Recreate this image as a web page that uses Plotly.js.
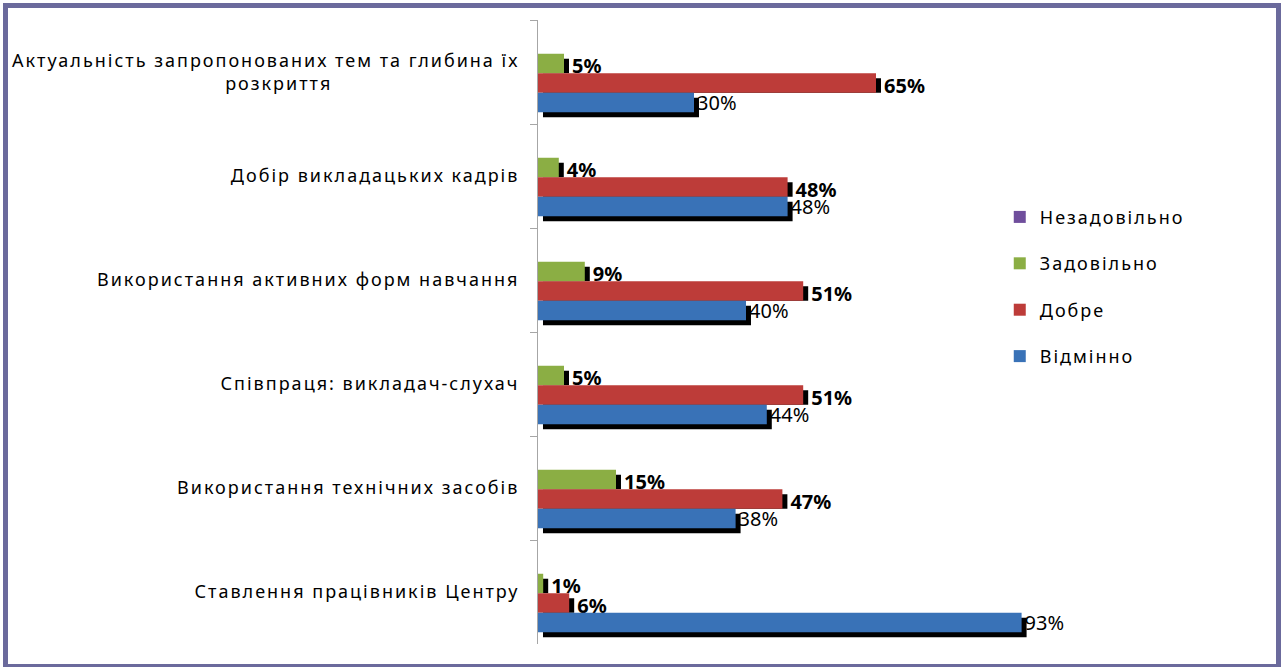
<!DOCTYPE html>
<html>
<head>
<meta charset="utf-8">
<script src="https://cdn.plot.ly/plotly-3.0.1.min.js"></script>
<style>
  html, body { margin: 0; padding: 0; background: #ffffff; }
  #wrap { position: relative; width: 1286px; height: 667px; }
  #chart { position: absolute; left: 0; top: 0; width: 1286px; height: 667px; }
  #frame { position: absolute; left: 3px; top: 3px; width: 1268px; height: 656px;
           border: 5px solid #6B6A9C; pointer-events: none; }
  #chart .ytick text, #chart .legendtext { letter-spacing: 2px; }
  #chart .legend .scrollbox { clip-path: none !important; }
  #chart .legend { clip-path: none !important; }
</style>
</head>
<body>
<div id="wrap">
  <div id="chart"></div>
  <div id="frame"></div>
</div>
<script>
// ---- data ----
var categories = [
  "Актуальність запропонованих тем та глибина їх<br>розкриття" + "\u00A0".repeat(28),
  "Добір викладацьких кадрів",
  "Використання активних форм навчання",
  "Співпраця: викладач-слухач",
  "Використання технічних засобів",
  "Ставлення працівників Центру"
];
var seriesNames = ["Незадовільно", "Задовільно", "Добре", "Відмінно"];
var unsatisfactory = [0, 0, 0, 0, 0, 0];
var satisfactory   = [5, 4, 9, 5, 15, 1];
var good           = [65, 48, 51, 51, 47, 6];
var excellent      = [30, 48, 40, 44, 38, 93];

function pct(arr) { return arr.map(function (v) { return v + "%"; }); }

// ---- styling ----
var colors = ["#6F4E9C", "#8BAE44", "#BD3C39", "#3972B7"];
var font = "Noto Sans, sans-serif";
var barW = 0.1875;          // one bar thickness in category units
var sh = 0.048;             // shadow offset (category units)
var shX = 0.96;             // shadow offset (value units)
var base0 = 0.012;

function bar(name, vals, color, off, opts) {
  var t = {
    type: "bar", orientation: "h", name: name,
    y: categories, x: vals,
    offset: off, width: barW,
    marker: { color: color, line: { width: 0 } },
    hoverinfo: "skip",
    legendgroup: name,
    cliponaxis: false
  };
  for (var k in opts) t[k] = opts[k];
  return t;
}

function shadow(vals, off, width, labels, bold) {
  return {
    type: "bar", orientation: "h",
    y: categories, x: vals, base: shX,
    offset: off, width: width,
    marker: { color: "#000000", line: { width: 0 } },
    showlegend: false, hoverinfo: "skip",
    legendgroup: "shadow",
    text: labels || null,
    textposition: labels ? "outside" : "none",
    constraintext: "none",
    textfont: { family: font, size: 20, color: "#000000", weight: bold ? "bold" : "normal" },
    cliponaxis: false
  };
}

var data = [
  // shadows
  shadow(satisfactory, -barW + base0 + sh, barW - sh, pct(satisfactory), true),
  shadow(good, base0 + sh, barW - sh, pct(good), true),
  shadow(excellent, barW + base0 + sh, barW, null, false),
  // bars
  bar(seriesNames[0], unsatisfactory, colors[0], -2 * barW + base0, {}),
  bar(seriesNames[1], satisfactory, colors[1], -barW + base0, {}),
  bar(seriesNames[2], good, colors[2], base0, {}),
  bar(seriesNames[3], excellent, colors[3], barW + base0, {
    text: pct(excellent), textposition: "outside", constraintext: "none",
    textfont: { family: font, size: 20, color: "#000000" }
  })
];

var layout = {
  width: 1286, height: 667,
  margin: { l: 538, r: 228, t: 20, b: 23, pad: 0 },
  paper_bgcolor: "#ffffff", plot_bgcolor: "#ffffff",
  barmode: "overlay",
  font: { family: font, size: 18, color: "#000000" },
  showlegend: true,
  legend: {
    x: 0.888, xanchor: "left", y: 0.7136, yanchor: "top",
    font: { family: font, size: 18, color: "#000000" },
    bgcolor: "rgba(0,0,0,0)", tracegroupgap: 20,
    traceorder: "grouped"
  },
  xaxis: {
    range: [0, 100], visible: false, fixedrange: true
  },
  yaxis: {
    type: "category", autorange: "reversed",
    showline: true, linecolor: "#A6A6A6", linewidth: 1,
    ticks: "outside", ticklen: 7, tickcolor: "#A6A6A6", tickwidth: 1,
    tickson: "boundaries",
    showgrid: false, zeroline: false,
    ticklabelstandoff: 14,
    tickfont: { family: font, size: 18, color: "#000000" }
  }
};

Plotly.newPlot("chart", data, layout, { displayModeBar: false, staticPlot: true });
</script>
</body>
</html>
